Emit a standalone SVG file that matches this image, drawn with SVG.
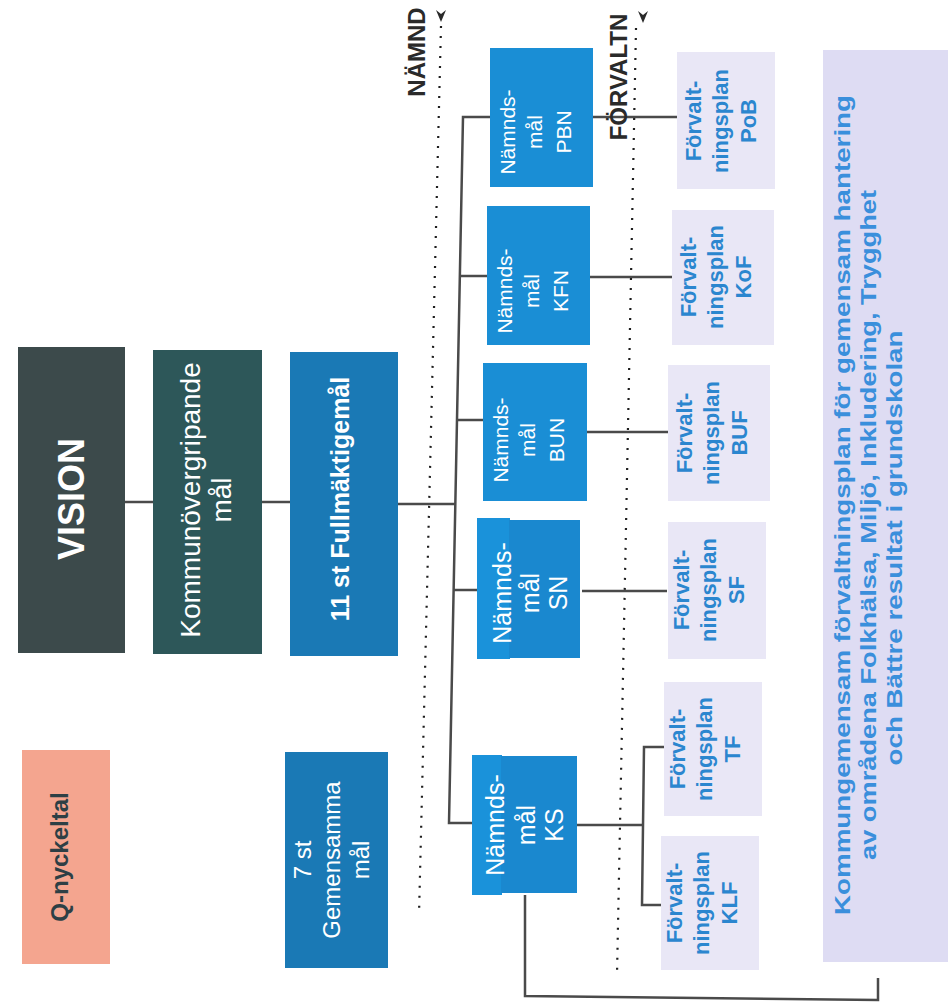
<svg xmlns="http://www.w3.org/2000/svg" width="948" height="1006" viewBox="0 0 948 1006">
<defs>
<style>
text{font-family:"Liberation Sans",Arial,sans-serif}
.conn{stroke:#4a4a4a;stroke-width:2.5;fill:none}
.dot{stroke:#1e1e1e;stroke-width:2.2;stroke-dasharray:2 8;fill:none}
.nb{fill:#1a8ed5}
.fb{fill:#e9e7f6}
.nt{fill:#fff;font-size:21px;text-anchor:middle}
.nt2{fill:#fff;font-size:25px;text-anchor:middle}
.ft{fill:#2b86cf;font-size:22px;font-weight:bold;text-anchor:middle}
.lab{fill:#2a2a2a;font-size:24px;font-weight:bold;text-anchor:middle}
</style>
</defs>
<rect width="948" height="1006" fill="#fff"/>

<g id="connectors">
<line class="conn" x1="125" y1="502" x2="153" y2="502"/>
<line class="conn" x1="262" y1="502" x2="290" y2="502"/>
<line class="conn" x1="398" y1="504" x2="456" y2="504"/>
<polyline class="conn" points="490,117 463,117 449,823 473,823"/>
<line class="conn" x1="461" y1="276" x2="487" y2="276"/>
<line class="conn" x1="458" y1="420" x2="484" y2="420"/>
<line class="conn" x1="454" y1="590" x2="478" y2="590"/>
<line class="conn" x1="593" y1="117" x2="677" y2="117"/>
<line class="conn" x1="590" y1="277" x2="672" y2="277"/>
<line class="conn" x1="587" y1="432" x2="668" y2="432"/>
<line class="conn" x1="582" y1="591" x2="667" y2="591"/>
<line class="conn" x1="577" y1="825" x2="643" y2="825"/>
<polyline class="conn" points="666,747 644,747 642,905 662,905"/>
<polyline class="conn" points="525,895 525,996 878,1000 878,978"/>
<line class="dot" x1="441" y1="26" x2="419" y2="915"/>
<line class="dot" x1="636" y1="28" x2="617" y2="975"/>
<path d="M436,10 L441,14 L446,10 L441,22 Z" fill="#2a2a2a"/>
<path d="M638,11 L643,15 L648,11 L643,23 Z" fill="#2a2a2a"/>
</g>

<g id="label-namnd">
<text class="lab" transform="translate(425,52) rotate(-90)">NÄMND</text>
</g>
<g id="label-forvaltn">
<text class="lab" transform="translate(627,77) rotate(-90)">FÖRVALTN</text>
</g>

<g id="vision">
<rect x="18" y="347" width="107" height="306" fill="#3c4a4b"/>
<text transform="translate(84,499) rotate(-90)" fill="#fff" font-size="36" font-weight="bold" text-anchor="middle">VISION</text>
</g>

<g id="kommunovergripande">
<rect x="153" y="350" width="109" height="304" fill="#2d5759"/>
<text transform="translate(200,500) rotate(-90)" fill="#fff" font-size="28" text-anchor="middle"><tspan x="0" y="0">Kommunövergripande</tspan><tspan x="0" y="31">mål</tspan></text>
</g>

<g id="fullmaktigemal">
<rect x="290" y="352" width="108" height="304" fill="#1a79b5"/>
<text transform="translate(349,499) rotate(-90)" fill="#fff" font-size="25" font-weight="bold" text-anchor="middle">11 st Fullmäktigemål</text>
</g>

<g id="q-nyckeltal">
<rect x="22" y="750" width="88" height="214" fill="#f4a58f"/>
<text transform="translate(68,857) rotate(-90)" fill="#2d3f45" font-size="24" font-weight="bold" text-anchor="middle">Q-nyckeltal</text>
</g>

<g id="gemensamma">
<rect x="285" y="752" width="103" height="216" fill="#1a79b5"/>
<text transform="translate(340,860) rotate(-90)" fill="#fff" font-size="24" text-anchor="middle"><tspan x="0" y="-29">7 st</tspan><tspan x="0" y="0">Gemensamma</tspan><tspan x="0" y="29">mål</tspan></text>
</g>

<g id="namnd-pbn">
<rect class="nb" x="490" y="48" width="103" height="139"/>
<text class="nt" transform="translate(542,132) rotate(-90)"><tspan x="0" y="-27">Nämnds-</tspan><tspan x="0" y="0">mål</tspan><tspan x="0" y="29">PBN</tspan></text>
</g>
<g id="namnd-kfn">
<rect class="nb" x="487" y="206" width="103" height="139"/>
<text class="nt" transform="translate(539,291) rotate(-90)"><tspan x="0" y="-27">Nämnds-</tspan><tspan x="0" y="0">mål</tspan><tspan x="0" y="29">KFN</tspan></text>
</g>
<g id="namnd-bun">
<rect class="nb" x="483" y="363" width="104" height="138"/>
<text class="nt" transform="translate(535,440) rotate(-90)"><tspan x="0" y="-27">Nämnds-</tspan><tspan x="0" y="0">mål</tspan><tspan x="0" y="29">BUN</tspan></text>
</g>
<g id="namnd-sn">
<rect x="477" y="518" width="33" height="141" fill="#1a92da"/>
<rect x="509" y="520" width="71" height="138" fill="#1a88cf"/>
<text class="nt2" transform="translate(539,593) rotate(-90)"><tspan x="0" y="-28">Nämnds-</tspan><tspan x="0" y="0">mål</tspan><tspan x="0" y="28">SN</tspan></text>
</g>
<g id="namnd-ks">
<rect x="472" y="755" width="30" height="140" fill="#1a92da"/>
<rect x="501" y="756" width="76" height="137" fill="#1a88cf"/>
<text class="nt2" transform="translate(535,825) rotate(-90)"><tspan x="0" y="-31">Nämnds-</tspan><tspan x="0" y="0">mål</tspan><tspan x="0" y="28">KS</tspan></text>
</g>

<g id="forv-pob">
<rect class="fb" x="677" y="52" width="98" height="137"/>
<text class="ft" transform="translate(728,121) rotate(-90)"><tspan x="0" y="-27">Förvalt-</tspan><tspan x="0" y="0">ningsplan</tspan><tspan x="0" y="28">PoB</tspan></text>
</g>
<g id="forv-kof">
<rect class="fb" x="672" y="210" width="102" height="135"/>
<text class="ft" transform="translate(723,277) rotate(-90)"><tspan x="0" y="-27">Förvalt-</tspan><tspan x="0" y="0">ningsplan</tspan><tspan x="0" y="28">KoF</tspan></text>
</g>
<g id="forv-buf">
<rect class="fb" x="668" y="365" width="102" height="136"/>
<text class="ft" transform="translate(719,433) rotate(-90)"><tspan x="0" y="-27">Förvalt-</tspan><tspan x="0" y="0">ningsplan</tspan><tspan x="0" y="28">BUF</tspan></text>
</g>
<g id="forv-sf">
<rect class="fb" x="668" y="522" width="98" height="137"/>
<text class="ft" transform="translate(716,590) rotate(-90)"><tspan x="0" y="-27">Förvalt-</tspan><tspan x="0" y="0">ningsplan</tspan><tspan x="0" y="28">SF</tspan></text>
</g>
<g id="forv-tf">
<rect class="fb" x="664" y="682" width="98" height="134"/>
<text class="ft" transform="translate(712,749) rotate(-90)"><tspan x="0" y="-27">Förvalt-</tspan><tspan x="0" y="0">ningsplan</tspan><tspan x="0" y="28">TF</tspan></text>
</g>
<g id="forv-klf">
<rect class="fb" x="661" y="836" width="98" height="134"/>
<text class="ft" transform="translate(709,903) rotate(-90)"><tspan x="0" y="-27">Förvalt-</tspan><tspan x="0" y="0">ningsplan</tspan><tspan x="0" y="28">KLF</tspan></text>
</g>

<g id="kommungemensam">
<rect x="823" y="50" width="125" height="912" fill="#dedcf3"/>
<text transform="translate(850,505) rotate(-90)" fill="#3a8fdc" font-size="22" font-weight="bold" text-anchor="middle" textLength="820" lengthAdjust="spacingAndGlyphs">Kommungemensam förvaltningsplan för gemensam hantering</text>
<text transform="translate(876,525) rotate(-90)" fill="#3a8fdc" font-size="22" font-weight="bold" text-anchor="middle" textLength="670" lengthAdjust="spacingAndGlyphs">av områdena Folkhälsa, Miljö, Inkludering, Trygghet</text>
<text transform="translate(902,548) rotate(-90)" fill="#3a8fdc" font-size="22" font-weight="bold" text-anchor="middle" textLength="435" lengthAdjust="spacingAndGlyphs">och Bättre resultat i grundskolan</text>
</g>
</svg>
